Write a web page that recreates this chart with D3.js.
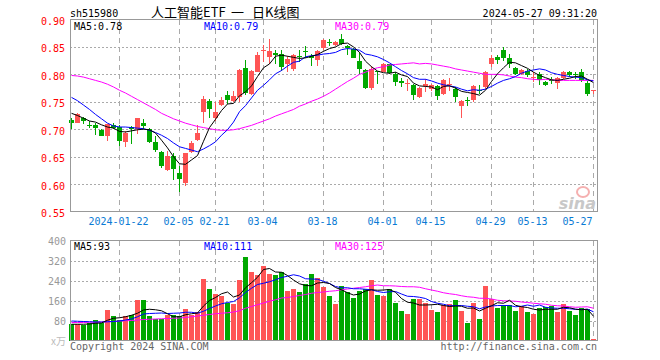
<!DOCTYPE html>
<html>
<head>
<meta charset="utf-8">
<title>sh515980 日K线图</title>
<style>
body { margin: 0; background: #fff; }
text { font-family: "DejaVu Sans Mono", monospace; font-size: 10px; }
</style>
</head>
<body>
<div id="container"></div>
<script src="https://d3js.org/d3.v7.min.js"></script>
<script>
// Daily candles, 2024-01-10 .. 2024-05-27 (88 trading days)
const open = [0.717,0.712,0.721,0.708,0.707,0.698,0.687,0.707,0.704,0.677,
  0.704,0.700,0.711,0.700,0.677,0.658,0.625,0.651,0.621,0.602,
  0.658,0.680,0.732,0.751,0.720,0.744,0.762,0.752,0.758,0.812,
  0.764,0.805,0.842,0.832,0.839,0.838,0.819,0.809,0.833,0.843,
  0.833,0.826,0.848,0.859,0.854,0.865,0.851,0.846,0.824,0.808,
  0.775,0.806,0.805,0.818,0.801,0.787,0.784,0.781,0.758,0.779,
  0.774,0.778,0.764,0.781,0.773,0.742,0.754,0.754,0.772,0.777,
  0.818,0.832,0.845,0.829,0.812,0.800,0.807,0.795,0.801,0.786,
  0.789,0.784,0.793,0.805,0.801,0.805,0.784,0.769];
const high = [0.721,0.729,0.723,0.715,0.712,0.700,0.710,0.712,0.707,0.697,
  0.706,0.720,0.718,0.703,0.687,0.660,0.660,0.657,0.633,0.657,
  0.679,0.707,0.760,0.755,0.749,0.758,0.769,0.769,0.810,0.827,
  0.808,0.841,0.854,0.864,0.844,0.844,0.833,0.838,0.844,0.851,
  0.838,0.844,0.865,0.865,0.860,0.874,0.853,0.848,0.841,0.810,
  0.815,0.807,0.821,0.819,0.804,0.793,0.792,0.783,0.777,0.791,
  0.783,0.780,0.792,0.793,0.777,0.754,0.758,0.781,0.780,0.807,
  0.835,0.836,0.850,0.838,0.814,0.810,0.810,0.804,0.804,0.787,
  0.795,0.795,0.807,0.807,0.804,0.810,0.787,0.772];
const low = [0.700,0.711,0.709,0.703,0.689,0.687,0.679,0.700,0.669,0.668,
  0.673,0.691,0.700,0.674,0.658,0.630,0.624,0.607,0.585,0.596,
  0.657,0.679,0.711,0.720,0.715,0.742,0.746,0.749,0.750,0.762,
  0.762,0.804,0.822,0.819,0.819,0.807,0.804,0.807,0.822,0.830,
  0.816,0.816,0.844,0.852,0.852,0.854,0.835,0.829,0.801,0.774,
  0.772,0.783,0.804,0.801,0.778,0.777,0.769,0.753,0.756,0.767,
  0.770,0.753,0.762,0.770,0.750,0.720,0.742,0.750,0.764,0.774,
  0.813,0.818,0.824,0.811,0.798,0.798,0.795,0.786,0.781,0.778,
  0.783,0.773,0.791,0.795,0.792,0.786,0.761,0.764];
const close = [0.712,0.728,0.715,0.706,0.702,0.688,0.709,0.703,0.679,0.694,
  0.700,0.720,0.706,0.677,0.662,0.633,0.652,0.628,0.610,0.656,
  0.674,0.694,0.755,0.737,0.731,0.753,0.753,0.761,0.808,0.766,
  0.807,0.836,0.845,0.843,0.836,0.813,0.828,0.836,0.831,0.841,
  0.830,0.843,0.863,0.857,0.859,0.856,0.848,0.830,0.809,0.775,
  0.810,0.804,0.819,0.803,0.786,0.785,0.785,0.762,0.775,0.782,
  0.781,0.761,0.790,0.783,0.758,0.752,0.752,0.778,0.769,0.805,
  0.829,0.826,0.829,0.819,0.800,0.808,0.798,0.796,0.789,0.781,
  0.787,0.793,0.804,0.798,0.800,0.789,0.764,0.772];

// Price moving averages
const ma5 = [0.729,0.725,0.720,0.715,0.713,0.708,0.704,0.702,0.696,0.695,
  0.697,0.699,0.700,0.699,0.693,0.680,0.666,0.650,0.637,0.636,
  0.644,0.652,0.678,0.703,0.718,0.734,0.746,0.747,0.761,0.768,
  0.779,0.796,0.812,0.819,0.833,0.835,0.833,0.831,0.829,0.830,
  0.833,0.836,0.842,0.847,0.850,0.856,0.857,0.850,0.840,0.824,
  0.814,0.806,0.803,0.802,0.804,0.799,0.796,0.784,0.779,0.778,
  0.777,0.772,0.778,0.779,0.775,0.769,0.767,0.765,0.762,0.771,
  0.787,0.801,0.812,0.822,0.821,0.816,0.811,0.804,0.798,0.794,
  0.790,0.789,0.791,0.793,0.796,0.797,0.791,0.785];
const ma10 = [0.758,0.752,0.744,0.736,0.727,0.719,0.711,0.706,0.704,0.704,
  0.703,0.702,0.701,0.698,0.694,0.689,0.683,0.675,0.668,0.665,
  0.662,0.659,0.664,0.670,0.677,0.689,0.699,0.713,0.732,0.743,
  0.757,0.771,0.780,0.790,0.801,0.807,0.815,0.822,0.824,0.832,
  0.834,0.835,0.837,0.838,0.840,0.845,0.847,0.846,0.844,0.837,
  0.835,0.832,0.827,0.821,0.814,0.807,0.801,0.794,0.791,0.791,
  0.788,0.784,0.781,0.779,0.777,0.773,0.770,0.772,0.771,0.773,
  0.778,0.784,0.789,0.792,0.796,0.802,0.806,0.808,0.810,0.808,
  0.803,0.800,0.798,0.796,0.795,0.794,0.790,0.788];
const ma30 = [0.798,0.797,0.795,0.792,0.789,0.786,0.782,0.777,0.771,0.766,
  0.760,0.754,0.748,0.742,0.736,0.729,0.724,0.719,0.715,0.711,
  0.708,0.705,0.703,0.701,0.699,0.698,0.698,0.699,0.701,0.704,
  0.707,0.711,0.715,0.719,0.724,0.728,0.732,0.736,0.742,0.746,
  0.751,0.755,0.760,0.766,0.773,0.780,0.787,0.793,0.800,0.804,
  0.809,0.812,0.814,0.817,0.818,0.819,0.820,0.821,0.819,0.820,
  0.819,0.817,0.815,0.813,0.810,0.808,0.806,0.804,0.802,0.800,
  0.800,0.800,0.799,0.797,0.795,0.794,0.792,0.791,0.790,0.791,
  0.790,0.789,0.789,0.789,0.789,0.789,0.789,0.789];

// Volume (万) and its moving averages
const volume = [65,65,63,69,83,69,123,99,83,99,
  103,163,163,99,85,85,103,103,99,127,
  103,116,247,207,187,179,152,147,243,336,
  276,263,300,267,263,273,199,207,195,227,
  268,252,216,179,147,219,195,171,199,207,
  243,183,179,207,151,119,107,167,167,151,
  123,115,143,147,163,119,71,151,87,219,
  167,131,143,143,119,139,115,107,131,135,
  139,115,147,119,103,131,127,7];
const vma5 = [65,65,65,66,69,70,81,89,91,95,
  101,109,122,125,123,119,107,95,95,103,
  107,110,138,160,172,187,194,174,182,211,
  231,253,284,288,274,273,260,242,227,220,
  219,230,232,228,212,203,191,182,186,198,
  203,201,202,204,193,168,153,150,142,142,
  143,145,140,136,138,137,129,130,118,129,
  139,151,149,161,141,135,132,125,122,125,
  125,125,133,131,125,123,125,97];
const vma10 = [78,77,76,75,74,74,75,76,78,82,
  86,95,106,108,109,110,108,109,110,113,
  113,109,117,128,138,147,152,156,171,192,
  209,224,229,235,243,252,257,263,258,247,
  246,245,237,228,216,211,211,207,207,205,
  203,196,192,195,196,186,177,176,173,168,
  156,149,145,139,140,140,137,135,127,134,
  138,140,140,140,135,137,142,137,142,133,
  130,129,129,127,125,124,125,115];
const vma30 = [72,72,72,73,73,74,75,76,78,79,
  80,82,84,85,86,87,88,89,90,92,
  95,98,101,104,107,109,111,114,119,129,
  136,143,150,157,163,170,172,176,180,184,
  189,192,194,197,199,203,206,209,212,215,
  219,222,219,219,218,216,215,215,213,207,
  202,197,191,187,184,179,175,173,169,169,
  166,161,159,158,157,154,152,149,147,145,
  141,139,138,135,133,134,135,129];

// Date ticks: index into the candle list and label
const tickIdx = [8, 18, 24, 32, 42, 52, 60, 70, 77, 87];
const tickLabels = ["2024-01-22","02-05","02-21","03-04","03-18","04-01","04-15","04-29","05-13","05-27"];
const priceTicks = [0.55, 0.60, 0.65, 0.70, 0.75, 0.80, 0.85, 0.90];
const volTicks = [0, 80, 160, 240, 320, 400];

const width = 660, height = 360;
const left = 70, right = 597;
const RED = "#ff5555", GREEN = "#00a800";

const x = d3.scaleLinear().domain([0, close.length - 1]).range([71, 593]);
const y = d3.scaleLinear().domain([0.55, 0.90]).range([211.5, 19.5]);
const yv = d3.scaleLinear().domain([0, 400]).range([340.5, 240.5]);

const svg = d3.create("svg")
    .attr("width", width)
    .attr("height", height);

// header
svg.append("text").attr("x", 70).attr("y", 17).text("sh515980");
const title = svg.append("text").attr("y", 17)
    .style("font-family", "'Noto Sans CJK SC', sans-serif").style("font-size", "13px");
title.append("tspan").attr("x", 151).text("人工智能ETF");
title.append("tspan").attr("x", 231).text("一");
title.append("tspan").attr("x", 252).text("日K线图");
svg.append("text").attr("x", 597).attr("y", 17).attr("text-anchor", "end")
    .text("2024-05-27 09:31:20");

// grid for one panel
function grid(ys, ticks, top, bottom) {
    const g = svg.append("g");
    g.selectAll("line.h").data(ticks.slice(1, -1)).join("line")
        .attr("x1", left).attr("x2", right)
        .attr("y1", d => Math.round(ys(d)) + 0.5).attr("y2", d => Math.round(ys(d)) + 0.5)
        .attr("stroke", "#aaa").attr("stroke-dasharray", "2,2");
    g.selectAll("line.v").data(tickIdx).join("line")
        .attr("x1", d => Math.round(x(d)) + 0.5).attr("x2", d => Math.round(x(d)) + 0.5)
        .attr("y1", top).attr("y2", bottom)
        .attr("stroke", "#aaa").attr("stroke-dasharray", "5,4");
}
grid(y, priceTicks, 20, 211);
grid(yv, volTicks, 241, 340);

// sina watermark
svg.append("ellipse").attr("cx", 583).attr("cy", 192).attr("rx", 6).attr("ry", 5)
    .attr("fill", "none").attr("stroke", "#f5b0b0").attr("stroke-width", 2);
svg.append("text").attr("x", 596).attr("y", 209).attr("text-anchor", "end")
    .style("font-family", "'DejaVu Sans', sans-serif").style("font-size", "16px")
    .style("font-style", "italic").style("font-weight", "bold")
    .attr("fill", "#c8c8c8").text("sina");

// price axis labels
svg.append("g")
    .attr("transform", `translate(${left},0)`)
    .call(d3.axisLeft(y).tickValues(priceTicks).tickFormat(d3.format(".2f")).tickSize(0).tickPadding(5))
    .call(g => g.select(".domain").remove())
    .call(g => g.selectAll("text").attr("fill", "#f00").attr("dy", "0.5em")
        .style("font-family", "'DejaVu Sans Mono', monospace").style("font-size", "10px"));

// date labels (last one kept inside the frame)
svg.append("g")
    .attr("transform", "translate(-1,212)")
    .call(d3.axisBottom(x).tickValues(tickIdx).tickFormat((d, i) => tickLabels[i]).tickSize(0).tickPadding(6))
    .call(g => g.select(".domain").remove())
    .call(g => g.selectAll("text").attr("fill", "#0a7ad4")
        .style("font-family", "'DejaVu Sans Mono', monospace").style("font-size", "10px"))
    .call(g => g.selectAll(".tick").filter(d => d === tickIdx[tickIdx.length - 1])
        .select("text").attr("text-anchor", "end").attr("x", 0));

// volume axis labels
svg.append("g")
    .attr("transform", `translate(${left},0)`)
    .call(d3.axisLeft(yv).tickValues(volTicks.slice(1)).tickSize(0).tickPadding(4))
    .call(g => g.select(".domain").remove())
    .call(g => g.selectAll("text").attr("fill", "#999").attr("dy", "0.35em")
        .style("font-family", "'DejaVu Sans Mono', monospace").style("font-size", "10px"));
svg.append("text").attr("x", 66).attr("y", 345).attr("text-anchor", "end")
    .attr("fill", "#bbb").style("font-family", "'Noto Sans CJK SC', sans-serif")
    .text("x万");

// candles
const idx = d3.range(close.length);
const col = i => close[i] >= open[i] ? RED : GREEN;
const candles = svg.append("g").attr("shape-rendering", "crispEdges");
candles.selectAll("line").data(idx).join("line")
    .attr("x1", i => Math.round(x(i)) + 0.5).attr("x2", i => Math.round(x(i)) + 0.5)
    .attr("y1", i => y(high[i])).attr("y2", i => y(low[i]))
    .attr("stroke", col);
candles.selectAll("rect").data(idx).join("rect")
    .attr("x", i => Math.round(x(i)) - 2)
    .attr("width", 5)
    .attr("y", i => y(Math.max(open[i], close[i])))
    .attr("height", i => Math.max(1, Math.abs(y(open[i]) - y(close[i]))))
    .attr("fill", col);

// volume bars
svg.append("g").attr("shape-rendering", "crispEdges")
    .selectAll("rect").data(idx).join("rect")
    .attr("x", i => Math.round(x(i)) - 2)
    .attr("width", 5)
    .attr("y", i => yv(volume[i]))
    .attr("height", i => yv(0) - yv(volume[i]))
    .attr("fill", col);

// moving average lines
function maLine(arr, ys, color) {
    svg.append("path")
        .attr("fill", "none")
        .attr("stroke", color)
        .attr("stroke-width", 1)
        .attr("d", d3.line().x((d, i) => x(i) + 0.5).y(d => ys(d))(arr));
}
maLine(ma30, y, "#f0f");
maLine(ma10, y, "#00f");
maLine(ma5, y, "#000");
maLine(vma30, yv, "#f0f");
maLine(vma10, yv, "#00f");
maLine(vma5, yv, "#000");

// panel frames
[[19.5, 211.5], [240.5, 340.5]].forEach(([t, b]) => {
    svg.append("rect").attr("x", 70.5).attr("y", t)
        .attr("width", right - left).attr("height", b - t)
        .attr("fill", "none").attr("stroke", "#999");
});

// MA legends
const legends = [
    [74, 30, "MA5:0.78", "#000"], [204, 30, "MA10:0.79", "#00f"], [335, 30, "MA30:0.79", "#f0f"],
    [74, 250, "MA5:93", "#000"], [204, 250, "MA10:111", "#00f"], [335, 250, "MA30:125", "#f0f"]
];
legends.forEach(([lx, ly, t, c]) => {
    svg.append("text").attr("x", lx).attr("y", ly).attr("fill", c).text(t);
});

// footer
svg.append("text").attr("x", 70).attr("y", 350).attr("fill", "#666").text("Copyright 2024 SINA.COM");
svg.append("text").attr("x", 597).attr("y", 350).attr("text-anchor", "end").attr("fill", "#666")
    .text("http://finance.sina.com.cn");

container.append(svg.node());
</script>
</body>
</html>
